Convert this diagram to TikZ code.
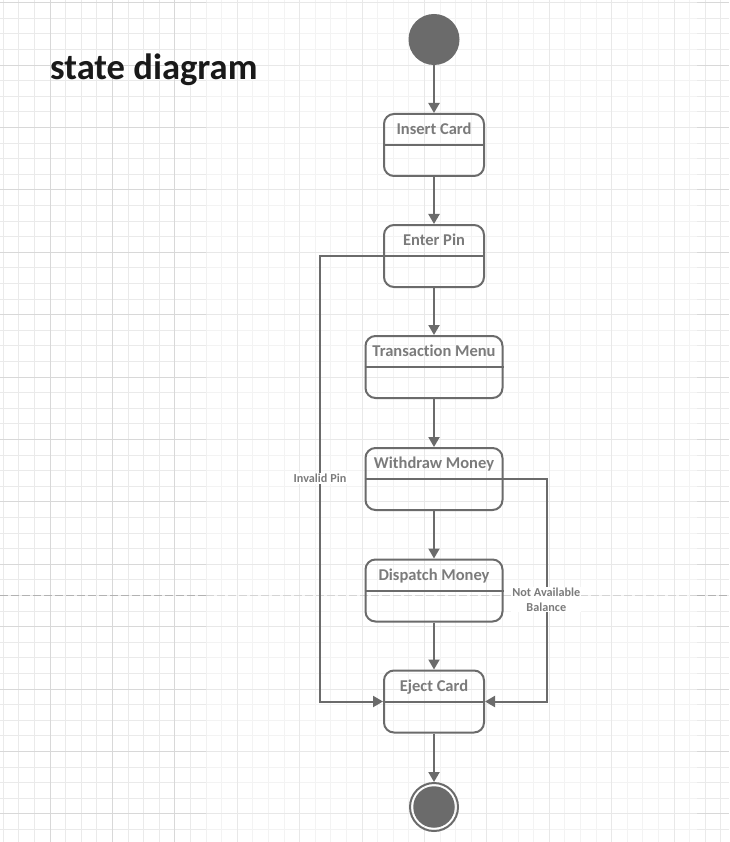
\documentclass[tikz,border=0pt]{standalone}
\usepackage{fontspec}
\setmainfont{Carlito}[Ligatures=NoCommon]
\usetikzlibrary{arrows.meta}
\definecolor{ln}{HTML}{6B6B6B}
\definecolor{txt}{HTML}{7B7B7B}
\definecolor{gmin}{HTML}{EAEAEA}
\definecolor{gmaj}{HTML}{D8D8D8}
\definecolor{gminl}{HTML}{F3F3F3}
\definecolor{gmajl}{HTML}{E8E8E8}
\tikzset{
  state/.style={draw=ln, line width=2pt, rounded corners=10pt, minimum height=62pt, inner sep=0pt},
  stitle/.style={font=\bfseries\fontsize{16.5}{18}\selectfont, text=txt, anchor=base, inner sep=0pt},
  divider/.style={draw=ln, line width=2pt},
  conn/.style={draw=ln, line width=2pt, -{Triangle[width=11pt,length=10pt]}},
  lbl/.style={font=\bfseries\fontsize{12.2}{15}\selectfont, text=txt, fill=white, inner sep=1pt, align=center},
  gminor/.style={line width=1pt},
  gmajor/.style={line width=1pt},
}
\newcommand\mygrid[2]{%
  \foreach \k in {0,...,46} {\draw[gminor,#1] ({3.2+15.6*\k},0) -- ++(0,842);}
  \foreach \k in {0,...,53} {\draw[gminor,#1] (0,{2.7+15.6*\k}) -- ++(729,0);}
  \foreach \k in {3,7,...,43} {\draw[gmajor,#2] ({3.2+15.6*\k},0) -- ++(0,842);}
  \foreach \k in {0,4,...,52} {\draw[gmajor,#2] (0,{2.7+15.6*\k}) -- ++(729,0);}
}
\begin{document}
\begin{tikzpicture}[x=1pt,y=-1pt]
\useasboundingbox (0,0) rectangle (729,842);
\fill[white] (0,0) rectangle (729,842);
% background grid
\begin{scope}
  \clip (206,0) rectangle (697,842);
  \mygrid{gminl}{gmajl}
\end{scope}
\begin{scope}
  \clip (0,0) rectangle (206,842) (697,0) rectangle (729,842);
  \mygrid{gmin}{gmaj}
\end{scope}
% page break line
\draw[line width=1pt, draw=black!30, dash pattern=on 8pt off 3pt] (0,595.5) -- (206,595.5);
\draw[line width=1pt, draw=black!17, dash pattern=on 8pt off 3pt] (206,595.5) -- (697,595.5);
\draw[line width=1pt, draw=black!30, dash pattern=on 8pt off 3pt] (697,595.5) -- (729,595.5);

% title
\node[anchor=base west, inner sep=0pt, font=\bfseries\fontsize{36.6}{40}\selectfont, text=black!90] (title) at (50,79.5) {state diagram};

% initial state
\node[circle, fill=ln, minimum size=51pt, inner sep=0pt] (start) at (434,39.5) {};

% states
\node[state, minimum width=100pt] (ic) at (434,145) {};
\node[stitle] (ict) at (434,134.5) {Insert Card};
\draw[divider] (ic.west) -- (ic.east);

\node[state, minimum width=100pt] (ep) at (434,256) {};
\node[stitle] (ept) at (434,245.5) {Enter Pin};
\draw[divider] (ep.west) -- (ep.east);

\node[state, minimum width=137pt] (tm) at (434,367) {};
\node[stitle] (tmt) at (434,356.5) {Transaction Menu};
\draw[divider] (tm.west) -- (tm.east);

\node[state, minimum width=137pt] (wm) at (434,479) {};
\node[stitle] (wmt) at (434,468.5) {Withdraw Money};
\draw[divider] (wm.west) -- (wm.east);

\node[state, minimum width=137pt] (dm) at (434,590.5) {};
\node[stitle] (dmt) at (434,580) {Dispatch Money};
\draw[divider] (dm.west) -- (dm.east);

\node[state, minimum width=100pt] (ej) at (434,701.5) {};
\node[stitle] (ejt) at (434,691) {Eject Card};
\draw[divider] (ej.west) -- (ej.east);

% final state
\node[circle, draw=ln, line width=2pt, minimum size=48pt, inner sep=0pt] (end) at (434,807) {};
\node[circle, fill=ln, minimum size=41.5pt, inner sep=0pt] (endin) at (434,807) {};

% main flow
\draw[conn] (start) -- (ic);
\draw[conn] (ic) -- (ep);
\draw[conn] (ep) -- (tm);
\draw[conn] (tm) -- (wm);
\draw[conn] (wm) -- (dm);
\draw[conn] (dm) -- (ej);
\draw[conn] (ej) -- (end);

% side loops
\coordinate (ipx) at (320,0);
\coordinate (nax) at (546.5,0);
\draw[conn] (ep.west) -- (ep.west -| ipx) -- (ipx |- ej.west) -- (ej.west);
\draw[conn] (wm.east) -- (wm.east -| nax) -- (nax |- ej.east) -- (ej.east);

\node[lbl, anchor=base] (ipl) at (320,482.7) {Invalid Pin};
\node[lbl] (nal) at (546.3,599.5) {Not Available\\Balance};
\end{tikzpicture}
\end{document}
